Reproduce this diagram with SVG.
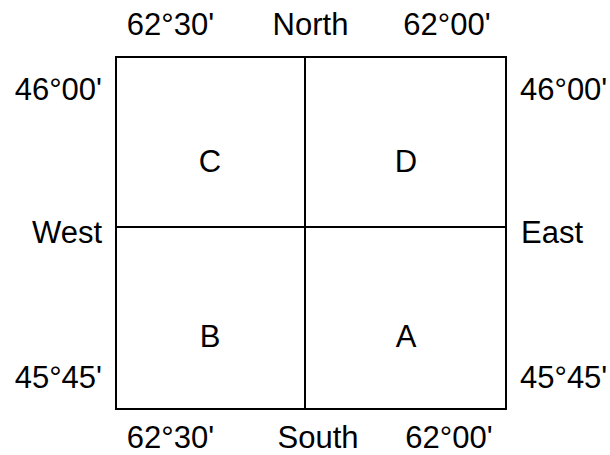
<svg xmlns="http://www.w3.org/2000/svg" width="610" height="455" viewBox="0 0 610 455">
<style>
text{font-family:"Liberation Sans",Arial,sans-serif;font-size:31px;fill:#000}
.m{text-anchor:middle}.e{text-anchor:end}
.ln{stroke:#000;stroke-width:2;fill:none}
</style>
<rect width="610" height="455" fill="#fff"/>
<g id="frame">
<rect class="ln" x="116" y="57" width="390" height="352"/>
</g>
<g id="connectors">
<line class="ln" x1="305" y1="57" x2="305" y2="409"/>
<line class="ln" x1="116" y1="227" x2="506" y2="227"/>
</g>
<g id="C"><text class="m" x="210" y="172">C</text></g>
<g id="D"><text class="m" x="406" y="172">D</text></g>
<g id="B"><text class="m" x="210" y="347">B</text></g>
<g id="A"><text class="m" x="406" y="347">A</text></g>
<g id="labels">
<text class="m" x="170.5" y="35">62°30'</text>
<text class="m" x="310.5" y="35">North</text>
<text class="m" x="447" y="35">62°00'</text>
<text class="e" x="102" y="100">46°00'</text>
<text x="520" y="100">46°00'</text>
<text class="e" x="102" y="243">West</text>
<text x="521" y="243">East</text>
<text class="e" x="102" y="388">45°45'</text>
<text x="520" y="388">45°45'</text>
<text class="m" x="170.5" y="448">62°30'</text>
<text class="m" x="318" y="448">South</text>
<text class="m" x="449" y="448">62°00'</text>
</g>
</svg>
